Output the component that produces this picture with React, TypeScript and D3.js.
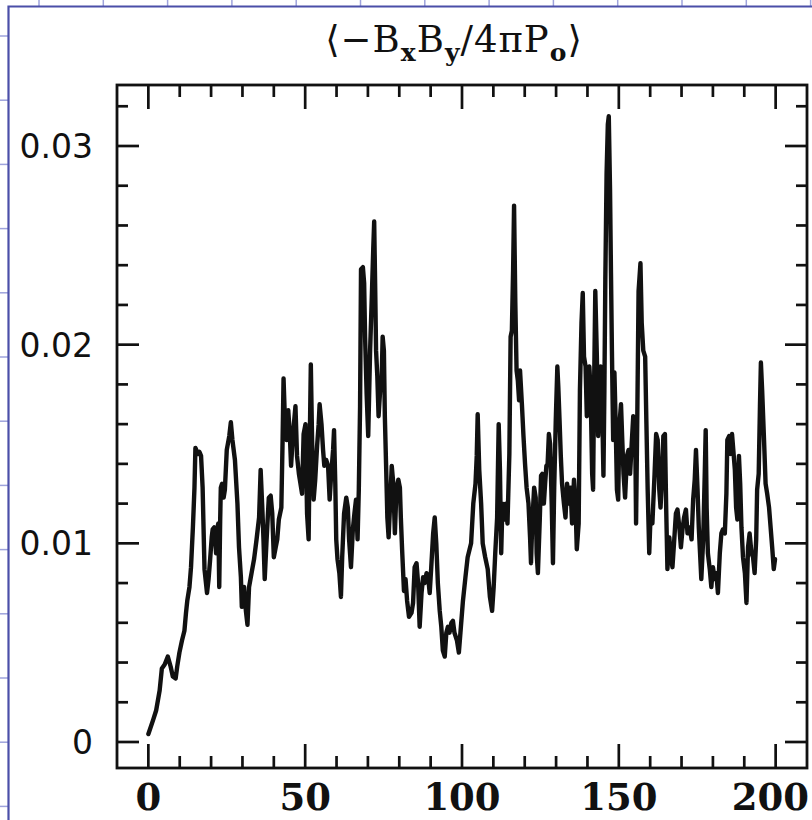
import React from 'react';
import * as d3 from 'd3';

// <-BxBy/4piPo> vs time (orbits) in pieces
const rise: [number, number][] = [
  [0, 0.0004], [1.5, 0.0011], [2.5, 0.0016], [3.6, 0.0026], [4.3, 0.0037], [5.2, 0.0039], [6.2, 0.0043],
  [7.1, 0.0038], [7.8, 0.0033], [8.7, 0.0032], [9.2, 0.0038], [9.9, 0.0045], [10.7, 0.0051], [11.5, 0.0056],
  [12.0, 0.0065], [12.4, 0.0071], [13.1, 0.0078], [13.6, 0.0088], [14.2, 0.0108], [14.7, 0.0128], [15.0, 0.0148],
  [15.8, 0.0145], [16.3, 0.0146], [16.8, 0.0144], [17.3, 0.0128], [17.9, 0.0087], [18.7, 0.0075], [19.2, 0.0082],
  [19.7, 0.0092], [20.2, 0.0103], [20.5, 0.0107], [21.0, 0.0108], [21.6, 0.0095], [21.9, 0.0107], [22.3, 0.011],
  [22.6, 0.0078], [22.9, 0.0112], [23.1, 0.0128], [23.5, 0.013], [24.0, 0.0123], [24.4, 0.0127], [25.0, 0.0147],
  [25.8, 0.0154], [26.3, 0.0161], [26.8, 0.0152], [27.6, 0.0142], [28.4, 0.012], [28.9, 0.0098], [29.5, 0.0083],
  [29.8, 0.0068], [30.5, 0.0078], [31.1, 0.0066], [31.6, 0.0059], [32.1, 0.0078],
];

const plateau: [number, number][] = [
  [32.9, 0.0085], [33.7, 0.0092], [34.5, 0.0102], [35.3, 0.0113], [35.8, 0.0137], [36.4, 0.0115], [36.7, 0.0102],
  [37.1, 0.0082], [37.7, 0.0102], [38.4, 0.0123], [39.0, 0.0124], [39.5, 0.0115], [40.0, 0.0093], [40.6, 0.0098],
  [41.1, 0.0102], [41.6, 0.0112], [42.4, 0.0118], [42.8, 0.0152], [43.1, 0.0183], [43.5, 0.0164], [44.1, 0.0152],
  [44.6, 0.0167], [45.1, 0.0155], [45.5, 0.0139], [46.0, 0.0152], [46.4, 0.016], [46.9, 0.0169], [47.4, 0.0144],
  [48.0, 0.0135], [48.5, 0.013], [49.0, 0.0125], [49.5, 0.0155], [50.1, 0.016], [50.6, 0.0115], [51.1, 0.0102],
  [51.4, 0.0144], [51.8, 0.019], [52.2, 0.0152], [52.7, 0.0122], [53.2, 0.0132], [53.8, 0.0149], [54.3, 0.016],
  [54.6, 0.017], [55.2, 0.016], [55.7, 0.0147], [56.1, 0.0139], [56.7, 0.0142], [57.3, 0.0139], [57.8, 0.0122],
  [58.3, 0.0135], [58.9, 0.0147], [59.2, 0.0157], [59.6, 0.013], [59.9, 0.0102], [60.3, 0.0092], [60.9, 0.0085],
  [61.4, 0.0073], [61.8, 0.0093], [62.4, 0.0115], [63.1, 0.0123], [63.6, 0.0118], [64.0, 0.0102], [64.6, 0.0088],
  [65.2, 0.0107], [65.7, 0.0115], [66.2, 0.0122], [66.7, 0.0102], [67.1, 0.0127], [67.5, 0.0169],
];

const burst1: [number, number][] = [
  [67.8, 0.0238], [68.4, 0.0239], [68.8, 0.0231], [69.1, 0.0204], [69.6, 0.0175], [70.1, 0.0154], [70.7, 0.0197],
  [71.2, 0.0222], [71.7, 0.0248], [72.0, 0.0262], [72.3, 0.0231], [72.6, 0.0197], [73.0, 0.0184], [73.4, 0.0164],
  [73.9, 0.0177], [74.4, 0.0184], [74.7, 0.0204], [75.1, 0.0197], [75.4, 0.0164], [75.8, 0.0139], [76.2, 0.0113],
  [76.6, 0.0103], [77.0, 0.0117], [77.6, 0.0139], [78.1, 0.013], [78.6, 0.0105], [79.1, 0.0127], [79.7, 0.0132],
  [80.2, 0.0128], [80.5, 0.0113], [80.9, 0.0097], [81.5, 0.0076], [82.0, 0.0082], [82.5, 0.0071], [83.1, 0.0063],
  [83.9, 0.0065], [84.4, 0.007], [84.9, 0.0088], [85.5, 0.009], [86.0, 0.008], [86.5, 0.0058], [87.1, 0.0075],
  [87.6, 0.0083], [88.1, 0.008], [88.7, 0.0085], [89.2, 0.0083], [89.7, 0.0075], [90.2, 0.0088], [90.8, 0.0105],
  [91.3, 0.0113], [91.8, 0.01], [92.3, 0.008], [92.9, 0.0066], [93.4, 0.0058], [93.9, 0.0046], [94.5, 0.0043],
  [95.0, 0.0055], [95.5, 0.0058], [96.0, 0.0055], [96.6, 0.006], [97.1, 0.0061], [97.6, 0.0055], [98.4, 0.0051],
  [99.0, 0.0045], [99.5, 0.0055], [100.3, 0.0071], [101.1, 0.0083], [101.8, 0.0093],
];

const burst2: [number, number][] = [
  [102.9, 0.01], [103.6, 0.012], [104.3, 0.013], [104.7, 0.0144], [105.0, 0.0165], [105.5, 0.0137], [106.1, 0.012],
  [106.6, 0.01], [107.4, 0.0093], [108.2, 0.0087], [108.9, 0.0073], [109.6, 0.0066], [110.1, 0.0078], [110.6, 0.0095],
  [111.2, 0.0113], [111.7, 0.016], [112.1, 0.0137], [112.5, 0.0095], [112.9, 0.012], [113.5, 0.0112], [114.0, 0.012],
  [114.5, 0.011], [115.1, 0.0145], [115.5, 0.0204], [115.9, 0.0207], [116.3, 0.0238], [116.6, 0.027], [117.0, 0.0221],
  [117.4, 0.0187], [117.8, 0.0182], [118.2, 0.0172], [118.5, 0.0187], [119.1, 0.017], [119.6, 0.0154], [120.1, 0.014],
  [120.6, 0.0128], [121.2, 0.012], [121.7, 0.0103], [122.0, 0.009], [122.4, 0.011], [123.0, 0.0128], [123.5, 0.0123],
  [123.8, 0.0095], [124.2, 0.0085], [124.8, 0.0112], [125.2, 0.0134], [125.6, 0.0135], [126.1, 0.012], [126.5, 0.013],
  [126.9, 0.0139], [127.3, 0.014], [127.7, 0.0155], [128.1, 0.015], [128.6, 0.012], [129.0, 0.009], [129.4, 0.0128],
  [129.9, 0.0162], [130.4, 0.0189], [130.7, 0.0179], [131.1, 0.0162], [131.5, 0.0144], [131.9, 0.013], [132.5, 0.012],
  [133.0, 0.0113], [133.5, 0.013], [134.1, 0.012], [134.6, 0.0128], [135.1, 0.011], [135.7, 0.0132], [136.2, 0.012],
  [136.6, 0.0097],
];

const burst3: [number, number][] = [
  [137.2, 0.011], [137.6, 0.0177], [138.1, 0.0211], [138.5, 0.0226], [138.9, 0.0194], [139.4, 0.0189], [139.8, 0.0164],
  [140.2, 0.0185], [140.6, 0.0189], [141.0, 0.0177], [141.5, 0.0135], [141.8, 0.0127], [142.1, 0.0177], [142.5, 0.0227],
  [143.0, 0.0194], [143.4, 0.0154], [143.8, 0.0169], [144.2, 0.0189], [144.6, 0.0177], [145.1, 0.0134], [145.4, 0.0177],
  [145.7, 0.0233], [146.1, 0.0286], [146.5, 0.0311], [146.8, 0.0315], [147.2, 0.0278], [147.5, 0.0236], [147.8, 0.0197],
  [148.2, 0.0152], [148.6, 0.0186], [149.0, 0.016], [149.4, 0.0127], [149.8, 0.0122], [150.2, 0.016], [150.7, 0.017],
  [151.1, 0.0152], [151.5, 0.0135], [152.0, 0.0123], [152.6, 0.0144], [153.1, 0.0147], [153.6, 0.0135], [154.1, 0.015],
  [154.6, 0.0164], [155.2, 0.016], [155.5, 0.011], [155.9, 0.0165], [156.3, 0.0227], [156.9, 0.0241], [157.3, 0.0211],
  [157.8, 0.0197], [158.4, 0.0194], [158.8, 0.016], [159.2, 0.0127], [159.7, 0.0095], [160.1, 0.0113], [160.7, 0.011],
  [161.4, 0.0135], [161.9, 0.0155], [162.4, 0.0152], [162.9, 0.0127], [163.3, 0.0118], [163.7, 0.013], [164.2, 0.0154],
  [164.7, 0.0155], [165.1, 0.0118], [165.5, 0.0087], [166.1, 0.0103], [166.6, 0.0093], [167.1, 0.0088], [167.6, 0.01],
  [168.2, 0.0115], [168.7, 0.0117], [169.3, 0.0108], [169.8, 0.0098], [170.3, 0.0107], [170.8, 0.0113], [171.4, 0.0117],
  [171.9, 0.0105],
];

const tail: [number, number][] = [
  [172.6, 0.0108], [173.2, 0.0102], [173.7, 0.0122], [174.2, 0.0132], [174.6, 0.0147], [175.1, 0.0127], [175.5, 0.0108],
  [175.9, 0.0095], [176.3, 0.0082], [176.9, 0.0102], [177.4, 0.0135], [177.7, 0.0157], [178.0, 0.0118], [178.4, 0.0095],
  [179.0, 0.0087], [179.5, 0.0078], [180.0, 0.0088], [180.6, 0.0082], [181.1, 0.0085], [181.6, 0.0075], [182.2, 0.0095],
  [182.7, 0.0105], [183.2, 0.0107], [183.8, 0.0105], [184.3, 0.0125], [184.6, 0.0152], [185.2, 0.0154], [185.7, 0.0145],
  [186.1, 0.0155], [186.5, 0.0147], [187.0, 0.0137], [187.4, 0.0118], [187.8, 0.0112], [188.3, 0.0144], [188.7, 0.013],
  [189.1, 0.0108], [189.6, 0.0093], [190.2, 0.0085], [190.7, 0.007], [191.2, 0.0098], [191.7, 0.0105], [192.3, 0.0095],
  [192.8, 0.0093], [193.3, 0.0085], [193.8, 0.0102], [194.1, 0.0127], [194.6, 0.0135], [195.0, 0.0169], [195.3, 0.0191],
  [195.7, 0.0177], [196.3, 0.0152], [196.8, 0.013], [197.3, 0.0125], [197.9, 0.0118], [198.4, 0.0108], [198.9, 0.0098],
  [199.4, 0.0087], [199.8, 0.0092],
];

const series = [...rise, ...plateau, ...burst1, ...burst2, ...burst3, ...tail];

const xTickValues = [0, 50, 100, 150, 200];
const xTickLabels = ['0', '50', '100', '150', '200'];
const yTickValues = [0, 0.01, 0.02, 0.03];
const yTickLabels = ['0', '0.01', '0.02', '0.03'];

const W = 812;
const H = 820;
const box = { left: 117, right: 807, top: 85, bottom: 768 };

const App = () => {
  const x = d3.scaleLinear().domain([-10, 210]).range([box.left, box.right]);
  const y = d3.scaleLinear().domain([0, 0.03]).range([742, 146]);

  const line = d3.line<[number, number]>()
    .x(d => x(d[0]))
    .y(d => y(d[1]));

  const xMinor = d3.range(0, 201, 10).filter(v => !xTickValues.includes(v));
  const yMinor = d3.range(0, 17).map(i => i * 0.002).filter(v => !yTickValues.some(t => Math.abs(t - v) < 1e-9));

  // slide background grid peeking out at the left and top
  const gridRows = d3.range(36, H, 64.2);
  const gridCols = d3.range(39, W, 64.3);

  const ink = '#111';
  const tw = 2.7;
  const xFont = 37;
  // keep the last label inside the page, as in the scan
  const labelX = (v: number, s: string) => Math.min(x(v), W - 3 - (s.length * 0.696 * xFont) / 2);

  return (
    <svg width={W} height={H} style={{ position: 'absolute', left: 0, top: 0, background: '#fff' }}>
      <rect width={W} height={H} fill="#fff" />
      {gridRows.map((gy, i) => (
        <line key={'gr' + i} x1={0} x2={8} y1={gy} y2={gy} stroke="#9ea3dc" strokeWidth={1.5} />
      ))}
      {gridCols.map((gx, i) => (
        <line key={'gc' + i} x1={gx} x2={gx} y1={0} y2={7} stroke="#9ea3dc" strokeWidth={1.5} />
      ))}
      <path d={`M8.5,${H} L8.5,6.5 L${W},6.5`} fill="none" stroke="#4b4fa8" strokeWidth={2.2} />

      {/* title */}
      <text x={454} y={52} textAnchor="middle" fontFamily="'DejaVu Serif', serif" fontSize={37}
        letterSpacing={1} fill={ink}>
        <tspan>⟨−B</tspan>
        <tspan fontSize={25} fontWeight="bold" dy={9}>x</tspan>
        <tspan dy={-9}>B</tspan>
        <tspan fontSize={25} fontWeight="bold" dy={9}>y</tspan>
        <tspan dy={-9}>/4πP</tspan>
        <tspan fontSize={25} fontWeight="bold" dy={9}>o</tspan>
        <tspan dy={-9}>⟩</tspan>
      </text>

      {/* frame */}
      <rect x={box.left} y={box.top} width={box.right - box.left} height={box.bottom - box.top}
        fill="none" stroke={ink} strokeWidth={2.8} />

      {/* x ticks, bottom and top */}
      {xTickValues.map(v => (
        <g key={'xM' + v}>
          <line x1={x(v)} x2={x(v)} y1={box.bottom} y2={box.bottom - 24} stroke={ink} strokeWidth={tw} />
          <line x1={x(v)} x2={x(v)} y1={box.top} y2={box.top + 24} stroke={ink} strokeWidth={tw} />
        </g>
      ))}
      {xMinor.map(v => (
        <g key={'xm' + v}>
          <line x1={x(v)} x2={x(v)} y1={box.bottom} y2={box.bottom - 12} stroke={ink} strokeWidth={tw} />
          <line x1={x(v)} x2={x(v)} y1={box.top} y2={box.top + 12} stroke={ink} strokeWidth={tw} />
        </g>
      ))}

      {/* y ticks, left and right */}
      {yTickValues.map(v => (
        <g key={'yM' + v}>
          <line x1={box.left} x2={box.left + 22} y1={y(v)} y2={y(v)} stroke={ink} strokeWidth={tw} />
          <line x1={box.right} x2={box.right - 22} y1={y(v)} y2={y(v)} stroke={ink} strokeWidth={tw} />
        </g>
      ))}
      {yMinor.map(v => (
        <g key={'ym' + v}>
          <line x1={box.left} x2={box.left + 11} y1={y(v)} y2={y(v)} stroke={ink} strokeWidth={tw} />
          <line x1={box.right} x2={box.right - 11} y1={y(v)} y2={y(v)} stroke={ink} strokeWidth={tw} />
        </g>
      ))}

      {/* tick labels */}
      {xTickValues.map((v, i) => (
        <text key={'xl' + v} x={labelX(v, xTickLabels[i])} y={810} textAnchor="middle"
          fontFamily="'DejaVu Serif', serif" fontWeight="bold" fontSize={xFont} fill={ink}>
          {xTickLabels[i]}
        </text>
      ))}
      {yTickValues.map((v, i) => (
        <text key={'yl' + v} x={93} y={y(v)} dy="0.36em" textAnchor="end"
          fontFamily="'DejaVu Sans', sans-serif" fontSize={33} fill={ink}>
          {yTickLabels[i]}
        </text>
      ))}

      {/* curve */}
      <path d={line(series) || ''} fill="none" stroke={ink} strokeWidth={4.4}
        strokeLinejoin="round" strokeLinecap="round" />
    </svg>
  );
};

export default App;
